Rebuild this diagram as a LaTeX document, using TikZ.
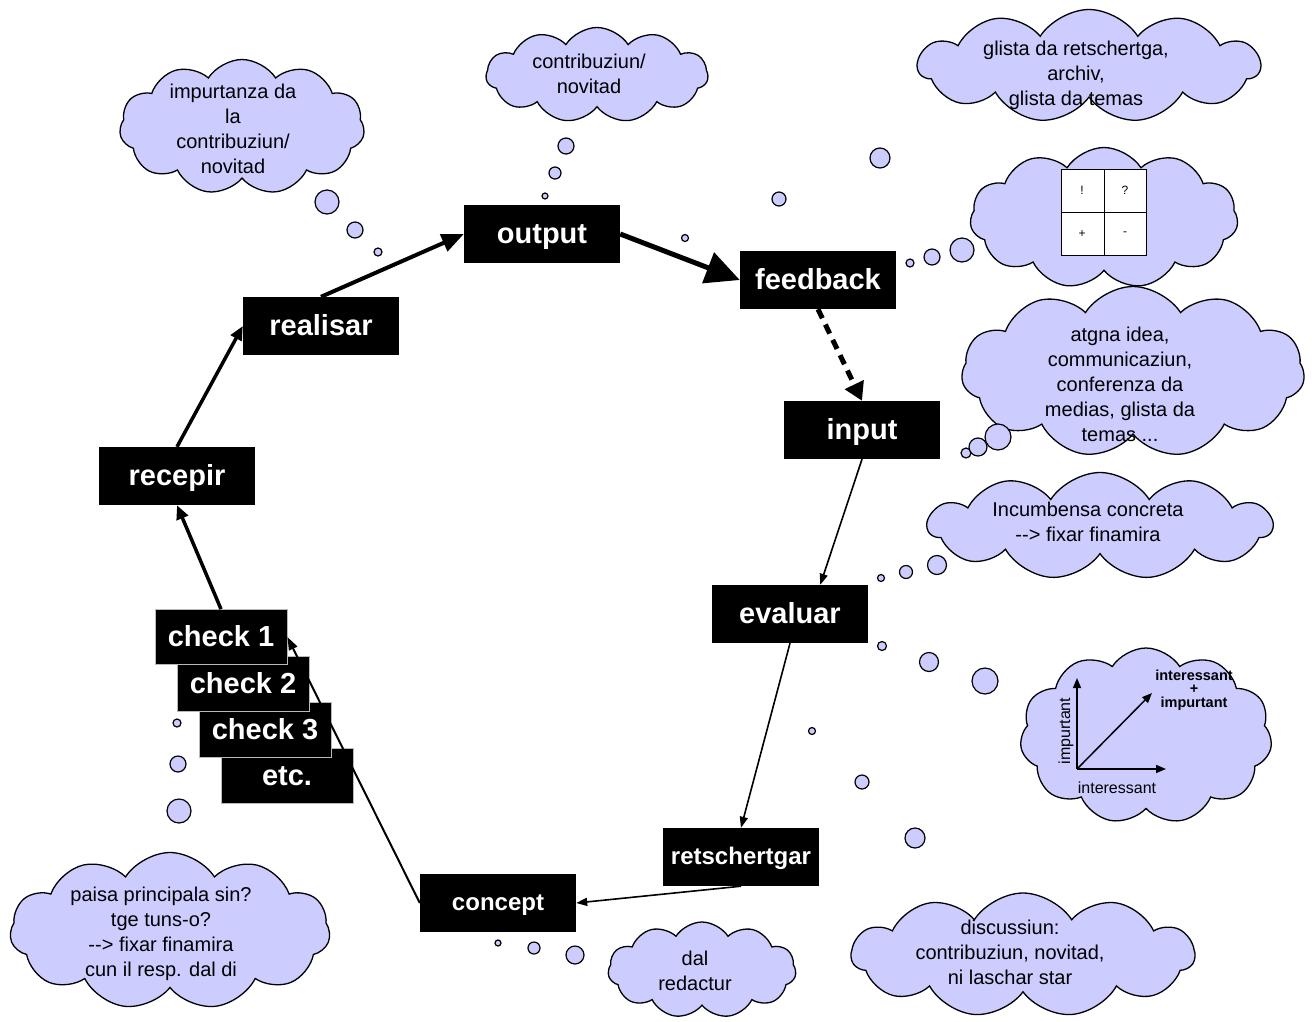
\documentclass[tikz,border=0pt]{standalone}
\usepackage{fontspec}
\setmainfont{Liberation Sans}
\usetikzlibrary{arrows.meta,shapes.symbols}
\definecolor{lavender}{RGB}{204,204,255}

\tikzset{
  box/.style={fill=black, text=white, inner sep=0pt, minimum width=156pt, minimum height=58pt,
    text height=21pt, text depth=2pt, font=\bfseries\fontsize{29}{34}\selectfont},
  smallbox/.style={box, text height=17pt, text depth=2pt, font=\bfseries\fontsize{24}{28}\selectfont},
  checkbox/.style={box, draw=gray!55, line width=0.8pt, minimum width=132pt, minimum height=55pt},
  puff/.style={cloud, cloud puffs=11, cloud puff arc=115, cloud ignores aspect, draw=black,
    line width=1.3pt, fill=lavender, inner sep=0pt},
  cloudtext/.style={align=center, font=\fontsize{20}{25}\selectfont},
  thin arrow/.style={line width=1.6pt, -{Triangle[length=11pt,width=8pt]}},
  bubble/.style={draw=black, line width=1.2pt, fill=lavender}
}

\begin{document}
\begin{tikzpicture}[x=1pt,y=-1pt]
\useasboundingbox (0,0) rectangle (1315,1021);

% clouds
\node[puff, minimum width=245pt, minimum height=135pt] (cimpurtanza) at (242,127) {};
\node[puff, minimum width=222pt, minimum height=95pt] (ccontrib) at (597,75) {};
\node[puff, minimum width=342pt, minimum height=113pt] (cglista) at (1089,66) {};
\node[puff, minimum width=268pt, minimum height=141pt] (ctabla) at (1104,218) {};
\node[puff, minimum width=343pt, minimum height=171pt] (cidea) at (1133,372) {};
\node[puff, minimum width=344pt, minimum height=107pt] (cincumb) at (1100,526) {};
\node[puff, minimum width=252pt, minimum height=176pt] (cgraf) at (1146,736) {};
\node[puff, minimum width=343pt, minimum height=124pt] (cdiscuss) at (1023,955) {};
\node[puff, minimum width=188pt, minimum height=96pt] (credactur) at (702,970) {};
\node[puff, minimum width=320pt, minimum height=157pt] (cpaisa) at (170,931) {};

% bubbles
\foreach \x/\y/\r in {327/202/12, 355/230/8, 378/252/4,
    566/146/8, 555/173/6, 545/196/3,
    880/158/10, 779/199/7, 685/238/3.5,
    910/263/4, 932/257/8, 962/250/12,
    966/453/5, 978/447/9, 998/437/13,
    881/578/3.5, 906/572/6.5, 937/565/9.5,
    882/646/4.5, 929/662/9.5, 985/681/13,
    812/731/3.5, 862/782/7, 915/838/10,
    498/943/3, 534/948/6, 575/955/9,
    177/723/4, 178/764/8, 179/811/12}
  \draw[bubble] (\x,\y) circle[radius=\r];

% cloud texts
\node[cloudtext] (timpurtanza) at (233,129) {impurtanza da\\la\\contribuziun/\\novitad};
\node[cloudtext] (tcontrib) at (589,74) {contribuziun/\\novitad};
\node[cloudtext] (tglista) at (1076,75) {glista da retschertga,\\archiv,\\glista da temas};
\node[cloudtext] (tidea) at (1120,384) {atgna idea,\\communicaziun,\\conferenza da\\medias, glista da\\temas ...};
\node[cloudtext] (tincumb) at (1088,522) {Incumbensa concreta\\-{}-> fixar finamira};
\node[cloudtext] (tdiscuss) at (1010,952) {discussiun:\\contribuziun, novitad,\\ni laschar star};
\node[cloudtext] (tredactur) at (695,971) {dal\\redactur};
\node[cloudtext] (tpaisa) at (161,934) {paisa principala sin?\\tge tuns-o?\\-{}-> fixar finamira\\cun il resp. dal di};

% table in cloud
\draw[fill=white, line width=1pt] (1061,169) rectangle (1146,255);
\draw[line width=1pt] (1104,169) -- (1104,255) (1061,212) -- (1146,212);
\foreach \x/\y/\t in {1082/190/!, 1125/190/?, 1082/234/+, 1125/234/-}
  \node[font=\fontsize{12}{14}\selectfont] at (\x,\y) {\t};

% graph in cloud
\coordinate (orig) at (1077,769);
\coordinate (ytop) at (1077,678);
\coordinate (xend) at (1166,769);
\coordinate (diag) at (1152,693);
\draw[line width=1.5pt, -{Triangle[length=10pt,width=8pt]}] (orig) -- (ytop);
\draw[line width=1.5pt, -{Triangle[length=10pt,width=8pt]}] (orig) -- (xend);
\draw[line width=1.5pt, -{Triangle[length=10pt,width=8pt]}] (orig) -- (diag);
\node[rotate=90, font=\fontsize{16}{18}\selectfont] (timp) at (1066,731) {impurtant};
\node[font=\fontsize{16}{18}\selectfont] (tint) at (1117,788) {interessant};
\node[align=center, font=\bfseries\fontsize{14.5}{13.5}\selectfont] (tboth) at (1194,690) {interessant\\+\\impurtant};

% cycle boxes
\node[box] (output) at (542,234) {output};
\node[box] (feedback) at (818,280) {feedback};
\node[box] (input) at (862,430) {input};
\node[box] (evaluar) at (790,614) {evaluar};
\node[smallbox] (retschertgar) at (741,857) {retschertgar};
\node[smallbox] (concept) at (498,903) {concept};
\node[box] (recepir) at (177,476) {recepir};
\node[box] (realisar) at (321,326) {realisar};

\node[checkbox] (etc) at (287,776) {etc.};
\node[checkbox] (check3) at (265,730) {check 3};
\node[checkbox] (check2) at (243,684) {check 2};
\node[checkbox] (check1) at (221,637) {check 1};

% connectors
\draw[line width=4pt, -{Triangle[length=22pt,width=18pt]}] (realisar.north) -- (output.west);
\draw[line width=5pt, -{Triangle[length=34pt,width=32pt]}] (output.east) -- (feedback.west);
\draw[line width=5pt, dash pattern=on 10pt off 7pt, -{Triangle[length=18pt,width=20pt]}] (feedback.south) -- (input.north);
\draw[thin arrow] (input.south) -- (evaluar.44);
\draw[thin arrow] (evaluar.south) -- (retschertgar.north);
\draw[thin arrow] (retschertgar.south) -- (concept.east);
\draw[line width=2pt, -{Triangle[length=13pt,width=9pt]}] (concept.west) -- (check1.east);
\draw[line width=3.5pt, -{Triangle[length=14pt,width=12pt]}] (check1.north) -- (recepir.south);
\draw[line width=3.5pt, -{Triangle[length=14pt,width=12pt]}] (recepir.north) -- (realisar.west);

\end{tikzpicture}
\end{document}
